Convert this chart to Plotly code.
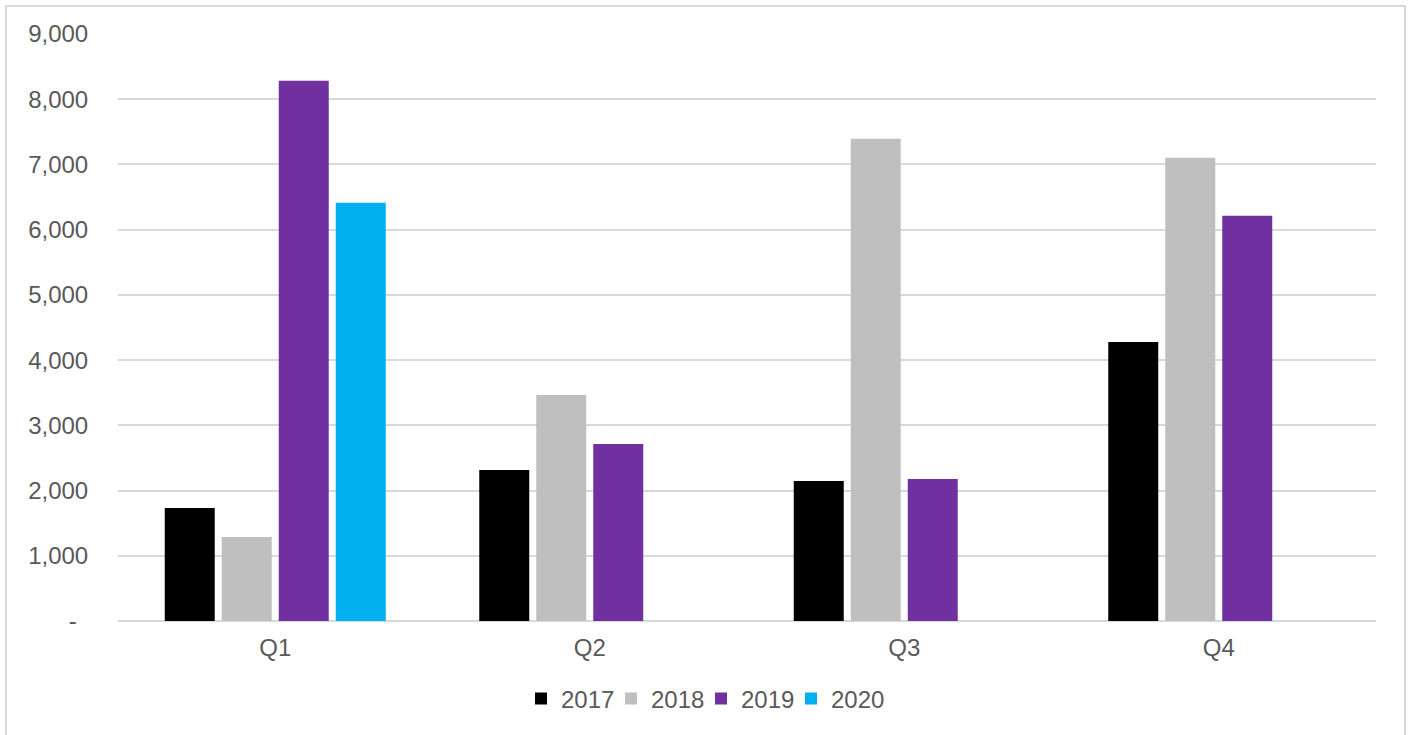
import plotly.graph_objects as go

quarters = ["Q1", "Q2", "Q3", "Q4"]
years = ["2017", "2018", "2019", "2020"]
v2017 = [1733, 2316, 2147, 4279]
v2018 = [1288, 3466, 7393, 7101]
v2019 = [8282, 2715, 2178, 6212]
v2020 = [6411, None, None, None]
colors = ["#000000", "#bfbfbf", "#7030a0", "#00b0f0"]

tickvals = [0, 1000, 2000, 3000, 4000, 5000, 6000, 7000, 8000, 9000]
ticktext = ["-\u00a0\u2009"] + [f"{v:,}" for v in tickvals[1:]]

fig = go.Figure()
for name, vals, c in zip(years, [v2017, v2018, v2019, v2020], colors):
    fig.add_trace(go.Bar(x=quarters, y=vals, name=name, marker=dict(color=c, line=dict(width=0))))
# invisible spacer entry so the last legend label is not clipped
fig.add_trace(go.Scatter(x=[None], y=[None], mode="markers", name="",
                         marker=dict(color="rgba(0,0,0,0)"), hoverinfo="skip"))

W, H = 1409, 735
ml, mr, mt, mb = 118, 33, 34, 114
pw, ph = W - ml - mr, H - mt - mb

fig.update_layout(
    width=W, height=H,
    margin=dict(l=ml, r=mr, t=mt, b=mb),
    paper_bgcolor="white", plot_bgcolor="white",
    font=dict(family="Liberation Sans, Arial, sans-serif", size=24, color="#595959"),
    barmode="group", bargap=0.275, bargroupgap=0.123,
    showlegend=True,
    legend=dict(orientation="h", x=(521 - ml) / pw, xanchor="left", y=-(699 - 621) / ph, yanchor="middle",
                font=dict(size=24, color="#595959"), itemwidth=30, traceorder="normal",
                entrywidth=45, entrywidthmode="pixels"),
    xaxis=dict(showgrid=False, showline=False, zeroline=False, ticks="outside", ticklen=5,
               tickcolor="rgba(0,0,0,0)", fixedrange=True),
    yaxis=dict(range=[0, 9000], tickvals=tickvals, ticktext=ticktext, showgrid=True,
               gridcolor="#d9d9d9", gridwidth=2, zeroline=True, zerolinecolor="#d9d9d9",
               zerolinewidth=2, showline=False, ticks="outside", ticklen=24,
               tickcolor="rgba(0,0,0,0)", fixedrange=True),
    shapes=[dict(type="rect", xref="paper", yref="paper",
                 x0=(6 - ml) / pw, x1=(1405 - ml) / pw,
                 y0=-(H + 20 - (mt + ph)) / ph, y1=1 + (mt - 6) / ph,
                 line=dict(color="#d9d9d9", width=2), layer="below")],
)

fig.write_html("out.html")
